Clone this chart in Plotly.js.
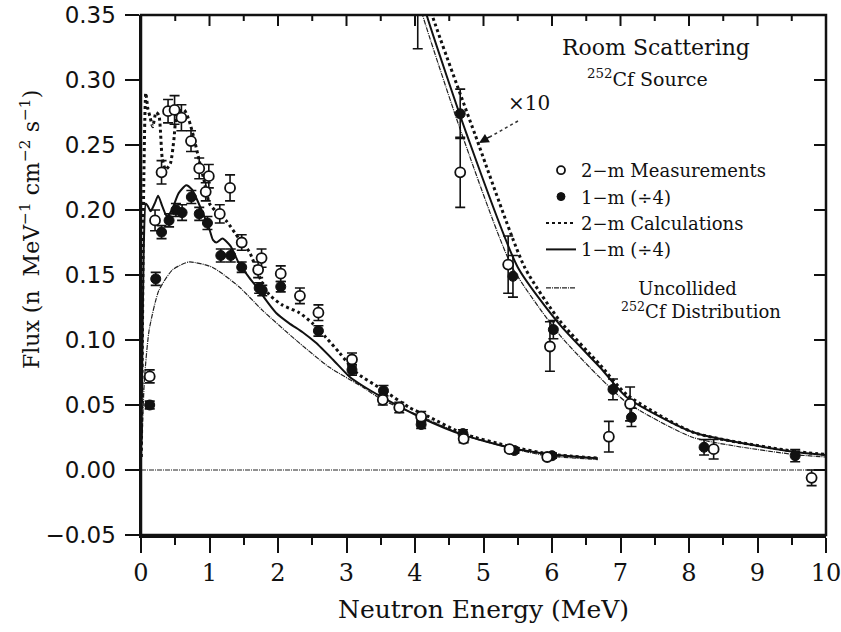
<!DOCTYPE html>
<html>
<head>
<meta charset="utf-8">
<script src="https://cdn.plot.ly/plotly-3.0.1.min.js"></script>
<style>
  html, body { margin: 0; padding: 0; background: #fff; }
  #chart { width: 841px; height: 632px; }
</style>
</head>
<body>
<div id="chart"></div>
<script>
// ---- 2-m measurements (open circles), direct scale ----
const m2E   = [0.127, 0.205, 0.30, 0.395, 0.49, 0.59, 0.73, 0.85, 0.945, 0.99, 1.15, 1.30, 1.47, 1.71, 1.76, 2.04, 2.32, 2.59, 3.08, 3.53, 3.77, 4.09, 4.71, 5.38, 5.93];
const m2F   = [0.072, 0.192, 0.229, 0.276, 0.277, 0.271, 0.253, 0.232, 0.214, 0.226, 0.197, 0.217, 0.175, 0.154, 0.163, 0.151, 0.134, 0.121, 0.085, 0.054, 0.048, 0.041, 0.024, 0.016, 0.010];
const m2Err = [0.005, 0.008, 0.009, 0.009, 0.011, 0.010, 0.008, 0.008, 0.007, 0.009, 0.007, 0.010, 0.006, 0.006, 0.007, 0.006, 0.006, 0.006, 0.005, 0.004, 0.004, 0.004, 0.003, 0.002, 0.002];

// ---- 1-m measurements (/4, filled circles), direct scale ----
const m1E   = [0.127, 0.215, 0.30, 0.41, 0.51, 0.60, 0.735, 0.85, 0.97, 1.165, 1.31, 1.47, 1.725, 1.77, 2.04, 2.59, 3.08, 3.54, 4.09, 4.70, 5.45, 6.00];
const m1F   = [0.050, 0.147, 0.183, 0.192, 0.200, 0.198, 0.210, 0.197, 0.190, 0.165, 0.165, 0.156, 0.140, 0.138, 0.141, 0.107, 0.077, 0.061, 0.035, 0.028, 0.015, 0.011];
const m1Err = [0.003, 0.005, 0.005, 0.005, 0.005, 0.006, 0.005, 0.005, 0.005, 0.005, 0.005, 0.004, 0.004, 0.004, 0.004, 0.004, 0.004, 0.004, 0.003, 0.003, 0.002, 0.002];

// ---- x10 high-energy measurements ----
const m2xE   = [4.04, 4.66, 5.36, 5.97, 6.83, 7.14, 8.36, 9.79];
const m2xF   = [0.360, 0.229, 0.158, 0.095, 0.0256, 0.0508, 0.016, -0.006];
const m2xErr = [0.036, 0.027, 0.022, 0.019, 0.0118, 0.013, 0.0075, 0.006];
const m1xE   = [4.66, 5.43, 6.02, 6.89, 7.16, 8.22, 9.55];
const m1xF   = [0.274, 0.149, 0.108, 0.062, 0.0405, 0.0175, 0.011];
const m1xErr = [0.019, 0.016, 0.007, 0.008, 0.007, 0.006, 0.0047];

// ---- calculations, direct scale ----
const c2E = [0.005, 0.02, 0.04, 0.07, 0.10, 0.13, 0.17, 0.22, 0.26, 0.31, 0.36, 0.43, 0.48, 0.53, 0.63, 0.70, 0.77, 0.85, 0.92, 1.00, 1.11, 1.24, 1.43, 1.58, 1.75, 1.87, 2.06, 2.31, 2.50, 2.70, 2.90, 3.14, 3.52, 3.92, 4.20, 4.70, 5.40, 6.00, 6.70];
const c2F = [0.010, 0.100, 0.220, 0.290, 0.278, 0.272, 0.264, 0.275, 0.273, 0.240, 0.231, 0.236, 0.254, 0.275, 0.277, 0.269, 0.256, 0.238, 0.223, 0.205, 0.198, 0.192, 0.178, 0.168, 0.146, 0.135, 0.127, 0.121, 0.113, 0.102, 0.090, 0.075, 0.062, 0.048, 0.041, 0.028, 0.018, 0.012, 0.009];

const c1E = [0.005, 0.02, 0.04, 0.07, 0.10, 0.14, 0.20, 0.25, 0.31, 0.38, 0.45, 0.55, 0.66, 0.74, 0.80, 0.90, 1.00, 1.05, 1.10, 1.19, 1.31, 1.43, 1.58, 1.73, 1.82, 1.97, 2.16, 2.36, 2.55, 2.80, 3.04, 3.23, 3.52, 4.10, 4.70, 5.40, 6.00, 6.67];
const c1F = [0.020, 0.090, 0.170, 0.205, 0.203, 0.199, 0.205, 0.211, 0.203, 0.195, 0.200, 0.213, 0.219, 0.216, 0.210, 0.198, 0.185, 0.177, 0.175, 0.178, 0.172, 0.159, 0.148, 0.138, 0.131, 0.121, 0.113, 0.106, 0.098, 0.085, 0.072, 0.065, 0.056, 0.040, 0.027, 0.017, 0.012, 0.009];

const ucE = [0.0, 0.02, 0.05, 0.12, 0.26, 0.46, 0.70, 1.04, 1.43, 1.77, 2.26, 2.75, 3.23, 3.52, 4.10, 4.70, 5.38, 5.92, 6.67];
const ucF = [0.0, 0.031, 0.070, 0.108, 0.138, 0.154, 0.160, 0.156, 0.141, 0.123, 0.100, 0.079, 0.064, 0.054, 0.041, 0.027, 0.017, 0.011, 0.008];

// ---- calculations x10 ----
const c2xE = [4.15, 4.25, 4.87, 5.60, 6.11, 6.70, 7.09, 8.06, 9.52, 10.0];
const c2xF = [0.370, 0.350, 0.259, 0.156, 0.115, 0.081, 0.058, 0.029, 0.0145, 0.012];
const c1xE = [4.07, 4.17, 4.75, 5.50, 6.11, 6.70, 7.09, 8.06, 9.52, 10.0];
const c1xF = [0.370, 0.350, 0.259, 0.156, 0.112, 0.079, 0.056, 0.029, 0.014, 0.0115];
const ucxE = [4.01, 4.11, 4.68, 5.42, 6.11, 6.70, 7.09, 8.06, 9.52, 10.0];
const ucxF = [0.370, 0.350, 0.259, 0.156, 0.104, 0.071, 0.052, 0.025, 0.012, 0.010];

// ---- tick positions used on the top and right frame edges ----
const xTicksMajor = [1, 2, 3, 4, 5, 6, 7, 8, 9];
const xTicksMinor = [0.5, 1.5, 2.5, 3.5, 4.5, 5.5, 6.5, 7.5, 8.5, 9.5];
const yTicks = [0, 0.05, 0.10, 0.15, 0.20, 0.25, 0.30];

const INK = '#111';
const SERIF = 'DejaVu Serif, serif';
const NB = '\u00a0';
const openMarker = { symbol: 'circle', size: 10, color: '#fff', line: { color: INK, width: 1.8 } };
const fullMarker = { symbol: 'circle', size: 10, color: INK, line: { color: INK, width: 1 } };
const errStyle = (arr) => ({ type: 'data', array: arr, visible: true, color: INK, thickness: 1.6, width: 5 });
const dotLine  = { color: INK, width: 3, dash: 'dot', shape: 'spline', smoothing: 0.6 };
const solLine  = { color: INK, width: 2, shape: 'spline', smoothing: 0.6 };
const ucDash   = '5px,1px,1px,1px';
const ucLine   = { color: '#222', width: 1.2, dash: ucDash, shape: 'spline', smoothing: 0.6 };

const traces = [
  { x: ucE,  y: ucF,  mode: 'lines', line: ucLine, showlegend: false, legendgroup: 'b' },
  { x: ucxE, y: ucxF, mode: 'lines', line: ucLine, showlegend: false, legendgroup: 'b' },
  { x: c1E,  y: c1F,  mode: 'lines', line: solLine, showlegend: false, legendgroup: 'a' },
  { x: c1xE, y: c1xF, mode: 'lines', line: solLine, showlegend: false, legendgroup: 'a' },
  { x: c2E,  y: c2F,  mode: 'lines', line: dotLine, showlegend: false, legendgroup: 'a' },
  { x: c2xE, y: c2xF, mode: 'lines', line: dotLine, showlegend: false, legendgroup: 'a' },
  { x: m1E,  y: m1F,  mode: 'markers', marker: fullMarker, error_y: errStyle(m1Err), showlegend: false, legendgroup: 'a' },
  { x: m1xE, y: m1xF, mode: 'markers', marker: fullMarker, error_y: errStyle(m1xErr), showlegend: false, legendgroup: 'a' },
  { x: m2E,  y: m2F,  mode: 'markers', marker: openMarker, error_y: errStyle(m2Err), showlegend: false, legendgroup: 'a' },
  { x: m2xE, y: m2xF, mode: 'markers', marker: openMarker, error_y: errStyle(m2xErr), showlegend: false, legendgroup: 'a' },
  // legend keys
  { x: [null], y: [null], mode: 'markers', name: '2−m Measurements', marker: Object.assign({}, openMarker, { size: 8 }), legendgroup: 'a', legendrank: 1 },
  { x: [null], y: [null], mode: 'markers', name: '1−m (÷4)', marker: Object.assign({}, fullMarker, { size: 8 }), legendgroup: 'a', legendrank: 2 },
  { x: [null], y: [null], mode: 'lines', name: '2−m Calculations', line: { color: INK, width: 2, dash: 'dot' }, legendgroup: 'a', legendrank: 3 },
  { x: [null], y: [null], mode: 'lines', name: '1−m (÷4)', line: { color: INK, width: 2 }, legendgroup: 'a', legendrank: 4 },
  { x: [null], y: [null], mode: 'lines',
    name: NB.repeat(10) + 'Uncollided<br>' + NB.repeat(7) + '<sup>252</sup>Cf Distribution',
    line: { color: '#222', width: 1.2, dash: ucDash }, legendgroup: 'b', legendrank: 5 }
];

// paper-coordinate helpers for text placement
const L = 141, R = 826, T = 15, B = 535;
const W = R - L, H = B - T;
const px = (p) => (p - L) / W;
const py = (p) => (B - p) / H;

// frame: box plus inward ticks on the top and right edges
const tickStyle = { color: INK, width: 2 };
const frameShapes = [
  { type: 'rect', xref: 'paper', yref: 'paper', x0: 0, x1: 1, y0: 0, y1: 1, layer: 'above',
    line: { color: INK, width: 2.5 } }
];
xTicksMajor.forEach(v => frameShapes.push({ type: 'line', xref: 'x', yref: 'paper', x0: v, x1: v, y0: 1, y1: 1 - 11 / H, line: tickStyle }));
xTicksMinor.forEach(v => frameShapes.push({ type: 'line', xref: 'x', yref: 'paper', x0: v, x1: v, y0: 1, y1: 1 - 6 / H, line: tickStyle }));
yTicks.forEach(v => frameShapes.push({ type: 'line', xref: 'paper', yref: 'y', x0: 1, x1: 1 - 12 / W, y0: v, y1: v, line: tickStyle }));

const layout = {
  width: 841, height: 632,
  margin: { l: L, r: 841 - R, t: T, b: 632 - B },
  paper_bgcolor: '#fff', plot_bgcolor: '#fff',
  showlegend: true,
  legend: {
    x: px(541), y: py(152), xanchor: 'left', yanchor: 'top',
    font: { family: SERIF, size: 18, color: INK },
    bgcolor: 'rgba(0,0,0,0)', traceorder: 'grouped', tracegroupgap: 12,
    itemwidth: 30, valign: 'top'
  },
  xaxis: {
    range: [0, 10], tickmode: 'linear', tick0: 0, dtick: 1,
    ticks: 'outside', ticklen: 15, tickwidth: 2, tickcolor: INK,
    minor: { dtick: 0.5, ticks: 'outside', ticklen: 7, tickwidth: 2, tickcolor: INK },
    showline: true, linecolor: INK, linewidth: 2.5, showgrid: false, zeroline: false,
    ticklabeloverflow: 'allow',
    tickfont: { family: SERIF, size: 24, color: INK },
    title: { text: 'Neutron Energy (MeV)', font: { family: SERIF, size: 25, color: INK }, standoff: 14 }
  },
  yaxis: {
    range: [-0.05, 0.35], tickmode: 'linear', tick0: -0.05, dtick: 0.05, tickformat: '.2f',
    ticks: 'outside', ticklen: 14, tickwidth: 2, tickcolor: INK, ticklabelstandoff: 4,
    showline: true, linecolor: INK, linewidth: 2.5, showgrid: false, zeroline: false,
    tickfont: { family: 'DejaVu Sans, sans-serif', size: 23, color: INK }
  },
  shapes: [
    // zero reference line
    { type: 'line', xref: 'x', yref: 'y', x0: 0, x1: 10, y0: 0, y1: 0,
      line: { color: '#222', width: 1.2, dash: ucDash } },
    // dotted arrow shaft to the x10 curves
    { type: 'line', xref: 'paper', yref: 'paper', x0: px(518), y0: py(121), x1: px(487), y1: py(138.5),
      line: { color: '#333', width: 1.5, dash: 'dot' } }
  ].concat(frameShapes),
  annotations: [
    { xref: 'paper', yref: 'paper', x: px(30), y: py(229), xanchor: 'center', yanchor: 'middle',
      textangle: -90, showarrow: false,
      text: 'Flux (n' + NB + ' MeV<sup>−1</sup> cm<sup>−2</sup> s<sup>−1</sup>)',
      font: { family: SERIF, size: 22, color: INK } },
    { xref: 'paper', yref: 'paper', x: px(656), y: py(47), xanchor: 'center', yanchor: 'middle', showarrow: false,
      text: 'Room Scattering', font: { family: SERIF, size: 22, color: INK } },
    { xref: 'paper', yref: 'paper', x: px(647), y: py(78), xanchor: 'center', yanchor: 'middle', showarrow: false,
      text: '<sup>252</sup>Cf Source', font: { family: SERIF, size: 19, color: INK } },
    { xref: 'paper', yref: 'paper', x: px(529), y: py(103), xanchor: 'center', yanchor: 'middle', showarrow: false,
      text: '×10', font: { family: SERIF, size: 20, color: INK } },
    { xref: 'paper', yref: 'paper', x: px(479), y: py(143), text: '', showarrow: true,
      ax: 12, ay: -7, arrowhead: 2, arrowsize: 1.3, arrowwidth: 1.5, arrowcolor: INK }
  ]
};

Plotly.newPlot('chart', traces, layout, { staticPlot: true, displayModeBar: false });
</script>
</body>
</html>
